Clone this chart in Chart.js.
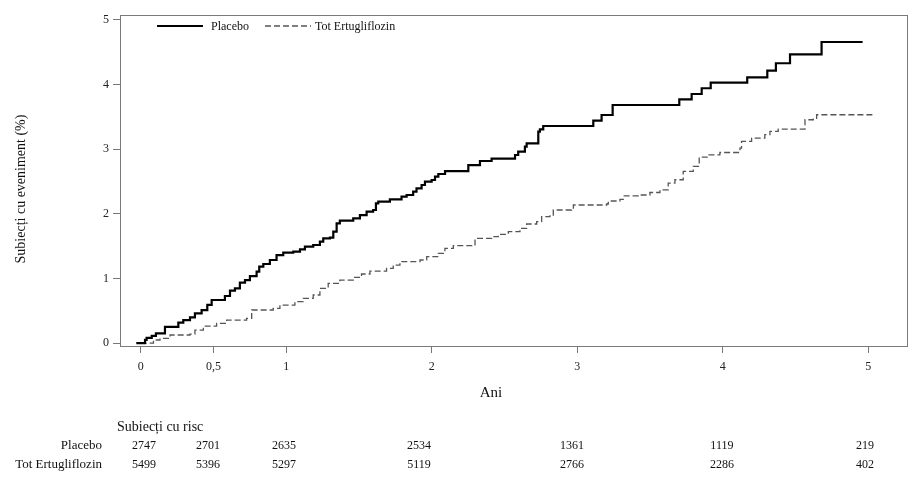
<!DOCTYPE html>
<html>
<head>
<meta charset="utf-8">
<script src="https://cdn.jsdelivr.net/npm/chart.js@4"></script>
<style>
  body { margin: 0; background: #fff; }
  #wrap { width: 923px; height: 482px; }
</style>
</head>
<body>
<div id="wrap"><canvas id="kmChart"></canvas></div>
<script>
// Kaplan-Meier style curves (years, % with event)
var placeboTimes = [-0.03, 0.03, 0.041, 0.076, 0.105, 0.167, 0.259, 0.293, 0.339, 0.373, 0.419, 0.458, 0.488, 0.579, 0.614, 0.648, 0.682, 0.717, 0.751, 0.797, 0.815, 0.843, 0.888, 0.934, 0.98, 1.049, 1.095, 1.129, 1.186, 1.232, 1.255, 1.301, 1.324, 1.347, 1.369, 1.461, 1.507, 1.553, 1.598, 1.617, 1.633, 1.713, 1.793, 1.828, 1.873, 1.896, 1.931, 1.954, 2.0, 2.023, 2.046, 2.092, 2.252, 2.332, 2.412, 2.573, 2.595, 2.641, 2.653, 2.733, 2.744, 2.767, 3.111, 3.168, 3.244, 3.702, 3.787, 3.856, 3.918, 4.169, 4.307, 4.366, 4.463, 4.68, 4.962];
var placeboPct = [0, 0.05, 0.08, 0.11, 0.15, 0.25, 0.315, 0.356, 0.397, 0.46, 0.51, 0.59, 0.666, 0.728, 0.81, 0.846, 0.934, 0.975, 1.037, 1.104, 1.182, 1.223, 1.285, 1.362, 1.398, 1.414, 1.45, 1.491, 1.517, 1.569, 1.62, 1.631, 1.724, 1.853, 1.894, 1.93, 1.981, 2.033, 2.059, 2.162, 2.188, 2.224, 2.265, 2.291, 2.343, 2.394, 2.446, 2.497, 2.523, 2.575, 2.616, 2.66, 2.755, 2.817, 2.853, 2.91, 2.962, 3.039, 3.091, 3.271, 3.307, 3.359, 3.441, 3.529, 3.684, 3.772, 3.854, 3.943, 4.03, 4.113, 4.215, 4.33, 4.469, 4.659, 4.659];

var ertuTimes = [0, 0.088, 0.133, 0.202, 0.339, 0.373, 0.431, 0.522, 0.591, 0.728, 0.763, 0.911, 0.957, 1.06, 1.117, 1.186, 1.232, 1.289, 1.369, 1.461, 1.518, 1.576, 1.69, 1.736, 1.782, 1.92, 1.966, 2.046, 2.091, 2.149, 2.298, 2.412, 2.458, 2.527, 2.607, 2.653, 2.722, 2.756, 2.813, 2.836, 2.962, 2.974, 3.203, 3.214, 3.294, 3.317, 3.42, 3.5, 3.569, 3.626, 3.672, 3.729, 3.798, 3.839, 3.901, 3.981, 4.119, 4.13, 4.199, 4.29, 4.325, 4.382, 4.566, 4.623, 4.646, 5.031];
var ertuPct = [0, 0.047, 0.072, 0.124, 0.139, 0.201, 0.263, 0.304, 0.356, 0.382, 0.511, 0.537, 0.588, 0.64, 0.692, 0.743, 0.846, 0.923, 0.975, 1.016, 1.068, 1.114, 1.156, 1.207, 1.259, 1.285, 1.336, 1.388, 1.466, 1.507, 1.62, 1.646, 1.682, 1.723, 1.775, 1.842, 1.878, 1.955, 1.981, 2.059, 2.074, 2.136, 2.152, 2.198, 2.224, 2.276, 2.291, 2.33, 2.37, 2.475, 2.527, 2.656, 2.733, 2.877, 2.913, 2.949, 3.017, 3.12, 3.172, 3.224, 3.275, 3.311, 3.456, 3.466, 3.533, 3.533];

var xTicks = [0, 0.5, 1, 2, 3, 4, 5];
var yTicks = [0, 1, 2, 3, 4, 5];

// number at risk table
var riskTimes = [0.023, 0.463, 0.985, 1.913, 2.964, 3.995, 4.978];
var riskPlacebo = [2747, 2701, 2635, 2534, 1361, 1119, 219];
var riskErtu = [5499, 5396, 5297, 5119, 2766, 2286, 402];

var serif = "'Liberation Serif', 'Times New Roman', serif";
Chart.defaults.font.family = serif;
Chart.defaults.color = "#222";

function toPoints(xs, ys) {
  return xs.map(function (x, i) { return { x: x, y: ys[i] }; });
}

// draws frame, legend, axis titles and the risk table
var kmExtras = {
  id: "kmExtras",
  afterDraw: function (chart) {
    var ctx = chart.ctx;
    var a = chart.chartArea;
    var xs = chart.scales.x;
    var ds = chart.data.datasets;
    ctx.save();

    ctx.strokeStyle = "#7a7a7a";
    ctx.lineWidth = 1;
    ctx.strokeRect(a.left + 0.5, a.top + 0.5, a.right - a.left - 1, a.bottom - a.top);

    // legend inside the plot
    ctx.textBaseline = "middle";
    ctx.textAlign = "left";
    ctx.font = "12px " + serif;
    var legendItems = [[157, 203, 211], [265, 311, 315]];
    for (var i = 0; i < ds.length; i++) {
      var li = legendItems[i];
      ctx.beginPath();
      ctx.strokeStyle = ds[i].borderColor;
      ctx.lineWidth = ds[i].borderWidth;
      ctx.setLineDash(ds[i].borderDash || []);
      ctx.moveTo(li[0], 26);
      ctx.lineTo(li[1], 26);
      ctx.stroke();
      ctx.setLineDash([]);
      ctx.fillStyle = "#111";
      ctx.fillText(ds[i].label, li[2], 27);
    }

    // y title
    ctx.save();
    ctx.translate(21, 189);
    ctx.rotate(-Math.PI / 2);
    ctx.textAlign = "center";
    ctx.font = "14px " + serif;
    ctx.fillText("Subiecți cu eveniment (%)", 0, 0);
    ctx.restore();

    // x title
    ctx.textAlign = "center";
    ctx.font = "15px " + serif;
    ctx.fillText("Ani", 491, 393);

    // risk table
    ctx.textAlign = "left";
    ctx.font = "14px " + serif;
    ctx.fillText("Subiecți cu risc", 117, 427);
    ctx.textAlign = "right";
    ctx.font = "13px " + serif;
    ctx.fillText("Placebo", 102, 446);
    ctx.fillText("Tot Ertugliflozin", 102, 465);
    ctx.textAlign = "center";
    ctx.font = "12px " + serif;
    for (var j = 0; j < riskTimes.length; j++) {
      var px = xs.getPixelForValue(riskTimes[j]);
      ctx.fillText(String(riskPlacebo[j]), px, 446);
      ctx.fillText(String(riskErtu[j]), px, 465);
    }
    ctx.restore();
  }
};

var ctx = document.getElementById("kmChart").getContext("2d");
var kmChart = new Chart(ctx, {
  type: "scatter",
  data: {
    datasets: [
      {
        label: "Placebo",
        data: toPoints(placeboTimes, placeboPct),
        showLine: true,
        stepped: true,
        borderColor: "#000",
        borderWidth: 2.2,
        pointRadius: 0,
      },
      {
        label: "Tot Ertugliflozin",
        data: toPoints(ertuTimes, ertuPct),
        showLine: true,
        stepped: true,
        borderColor: "#555",
        borderWidth: 1.3,
        borderDash: [6, 3],
        pointRadius: 0,
      },
    ],
  },
  options: {
    responsive: true,
    maintainAspectRatio: false,
    animation: false,
    layout: { padding: { top: 15, right: 15, left: 0, bottom: 0 } },
    plugins: {
      legend: { display: false },
      tooltip: { enabled: false },
    },
    scales: {
      x: {
        type: "linear",
        min: -0.142,
        max: 5.274,
        afterBuildTicks: function (s) {
          s.ticks = xTicks.map(function (v) { return { value: v }; });
        },
        afterFit: function (s) { s.height = 136; },
        border: { display: false },
        grid: { drawOnChartArea: false, drawTicks: true, tickLength: 7, color: "#777" },
        ticks: {
          padding: 7,
          font: { size: 12 },
          color: "#222",
          maxRotation: 0,
          callback: function (v) { return String(v).replace(".", ","); },
        },
      },
      y: {
        type: "linear",
        min: -0.046,
        max: 5.077,
        afterBuildTicks: function (s) {
          s.ticks = yTicks.map(function (v) { return { value: v }; });
        },
        afterFit: function (s) { s.width = 120; },
        border: { display: false },
        grid: { drawOnChartArea: false, drawTicks: true, tickLength: 7, color: "#777" },
        ticks: { padding: 4, font: { size: 12 }, color: "#222" },
      },
    },
  },
  plugins: [kmExtras],
});
</script>
</body>
</html>
